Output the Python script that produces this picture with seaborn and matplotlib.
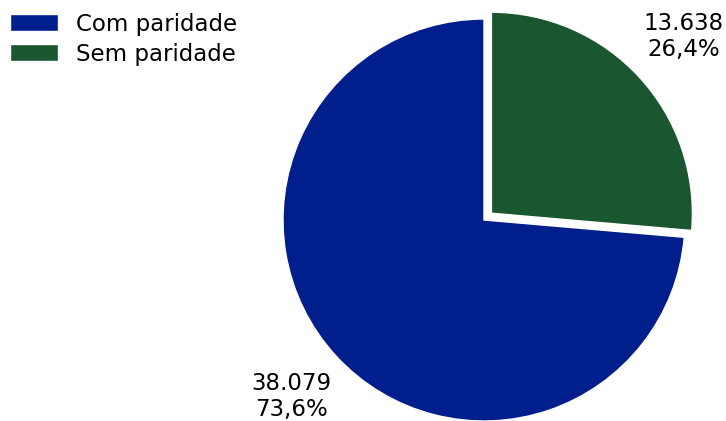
import matplotlib
matplotlib.use("Agg")
import matplotlib.pyplot as plt
import seaborn as sns

# Data
categorias = ["Com paridade", "Sem paridade"]
valores = [38079, 13638]
cores = ["#001f8c", "#1a5630"]

sns.set_theme(style="white")
plt.rcParams['font.family'] = ['DejaVu Sans']

total = sum(valores)
rotulos = []
for v in valores:
    pct = f"{100 * v / total:.1f}".replace(".", ",")
    rotulos.append(f"{v:,}".replace(",", ".") + "\n" + pct + "%")

fig = plt.figure(figsize=(7.26, 4.21), dpi=100)
ax = fig.add_axes([0, 0, 1, 1])

wedges, texts = ax.pie(
    valores,
    labels=rotulos,
    colors=cores,
    startangle=90,
    explode=[0, 0.05],
    labeldistance=1.3,
    wedgeprops={"edgecolor": "white", "linewidth": 1},
    textprops={"fontsize": 16.5, "color": "black", "ha": "center"},
)

# pie radius ~201 px, centre at (484, 220) px from top-left
ax.set_xlim(-484 / 201, (726 - 484) / 201)
ax.set_ylim(-(421 - 220) / 201, 220 / 201)
ax.set_aspect("auto")
ax.axis("off")

leg = fig.legend(
    wedges, categorias,
    loc="upper left", bbox_to_anchor=(-0.015, 1.019),
    frameon=False, fontsize=16.5,
    handlelength=2.1, handleheight=0.75,
    labelspacing=0.3, handletextpad=0.8,
)
for t in leg.get_texts():
    t.set_color("black")

fig.savefig("out.png", dpi=100)
